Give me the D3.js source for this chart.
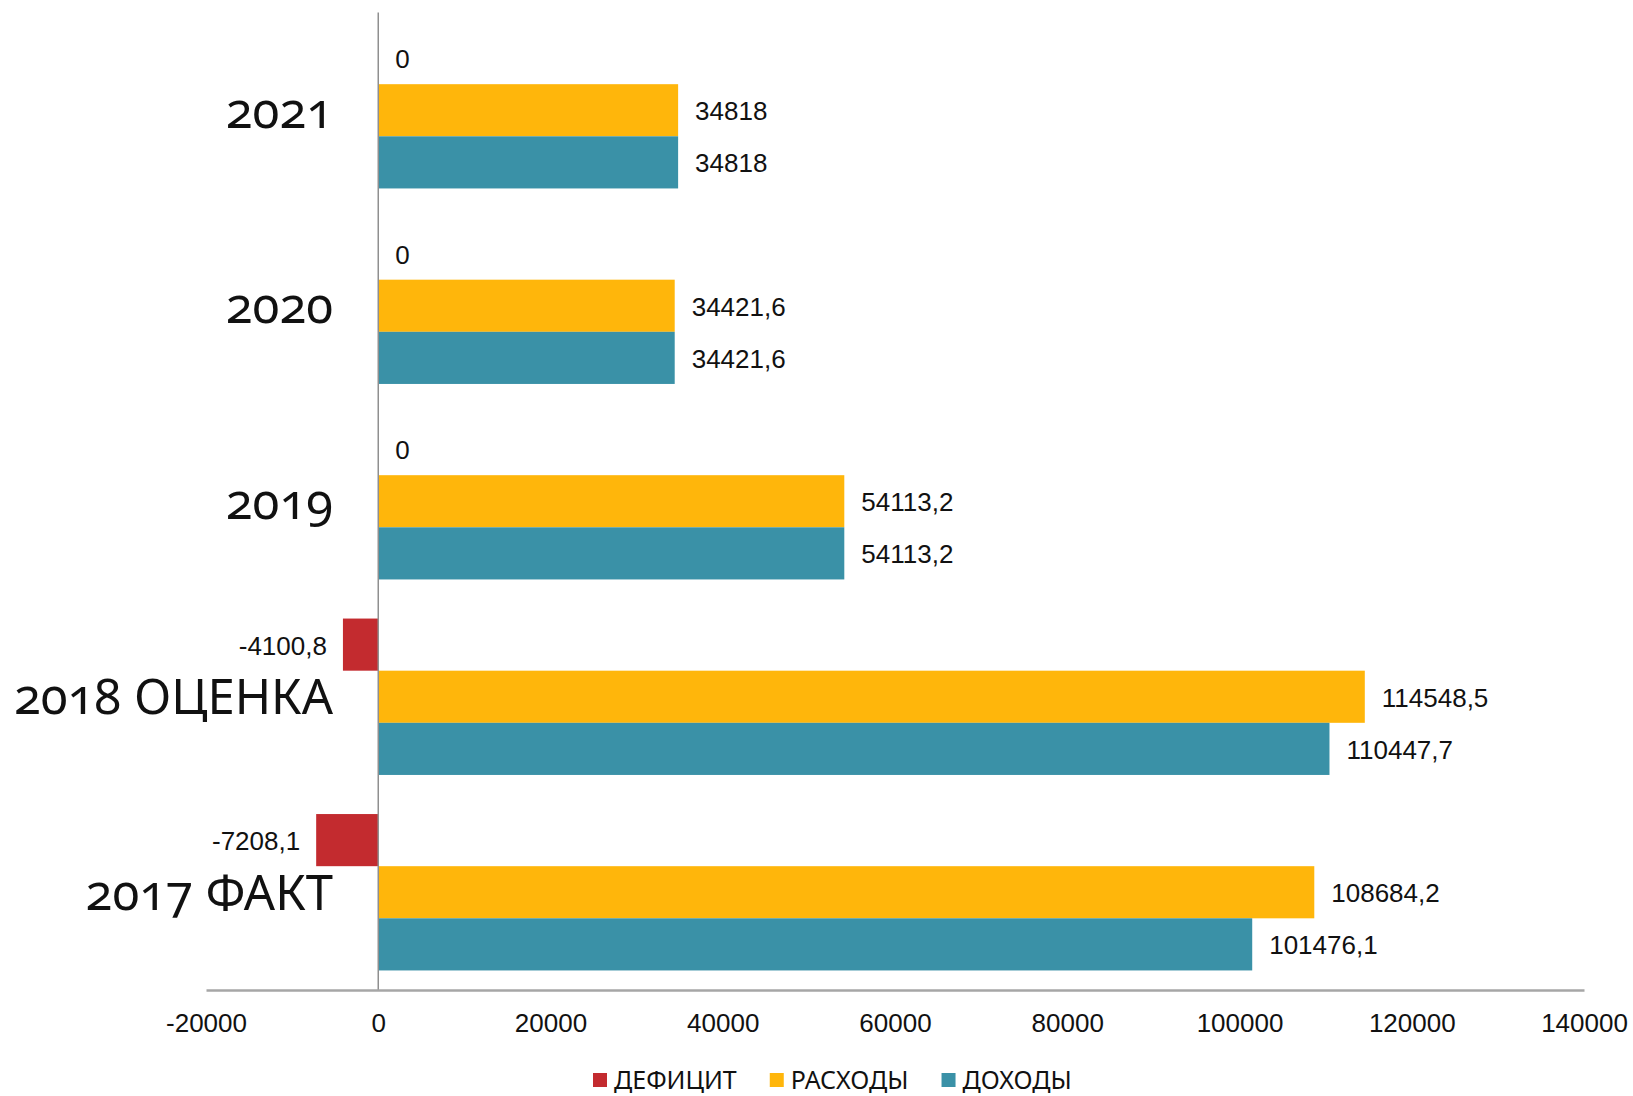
<!DOCTYPE html>
<html>
<head>
<meta charset="utf-8">
<script src="https://cdn.jsdelivr.net/npm/d3@7"></script>
<style>
html,body{margin:0;padding:0;background:#fff;}
svg{display:block;}
</style>
</head>
<body>
<svg id="chart" width="1633" height="1096"></svg>
<script>
// ---- data ----
const categories = ["2021", "2020", "2019", "2018 ОЦЕНКА", "2017 ФАКТ"];
const seriesNames = ["ДЕФИЦИТ", "РАСХОДЫ", "ДОХОДЫ"];
const deficit  = [0, 0, 0, -4100.8, -7208.1];
const expenses = [34818, 34421.6, 54113.2, 114548.5, 108684.2];
const revenues = [34818, 34421.6, 54113.2, 110447.7, 101476.1];
const tickValues = [-20000, 0, 20000, 40000, 60000, 80000, 100000, 120000, 140000];
const colors = ["#c32b2f", "#ffb60b", "#3a91a7"];

const seriesValues = [deficit, expenses, revenues];

const svg = d3.select("#chart");
const plotLeft = 206, plotRight = 1584, plotTop = 12.5, plotBottom = 990;

const x = d3.scaleLinear().domain([-20000, 140000]).range([plotLeft, plotRight]);
const y = d3.scaleBand().domain(categories).range([plotTop, plotBottom]).padding(0);
const ySub = d3.scaleBand().domain(seriesNames).range([0, y.bandwidth()]).paddingInner(0).paddingOuter(0.375);

const fmt = v => String(v).replace(".", ",");

// bars
categories.forEach((c, ci) => {
  const g = svg.append("g").attr("transform", `translate(0,${y(c)})`);
  seriesNames.forEach((s, si) => {
    const v = seriesValues[si][ci];
    g.append("rect")
      .attr("x", Math.min(x(0), x(v)))
      .attr("y", ySub(s))
      .attr("width", Math.abs(x(v) - x(0)))
      .attr("height", ySub.bandwidth())
      .attr("fill", colors[si]);
    g.append("text")
      .attr("x", v < 0 ? x(v) - 16 : x(v) + 17)
      .attr("y", ySub(s) + ySub.bandwidth() / 2 + 1)
      .attr("dy", "0.35em")
      .attr("text-anchor", v < 0 ? "end" : "start")
      .attr("font-family", "Liberation Sans, Arial, sans-serif")
      .attr("font-size", 26)
      .attr("fill", "#111")
      .text(fmt(v));
  });
});

// vertical zero axis
svg.append("line")
  .attr("x1", x(0)).attr("x2", x(0))
  .attr("y1", plotTop).attr("y2", plotBottom)
  .attr("stroke", "#8f8f8f").attr("stroke-width", 1.5);

// x axis
const xAxis = d3.axisBottom(x).tickValues(tickValues).tickSize(0).tickSizeOuter(0).tickPadding(24)
  .tickFormat(d => String(d));
const ax = svg.append("g").attr("transform", `translate(0,${plotBottom})`).call(xAxis);
ax.select(".domain").attr("stroke", "#a6a6a6").attr("stroke-width", 2.5);
ax.selectAll("text")
  .attr("font-family", "Liberation Sans, Arial, sans-serif")
  .attr("font-size", 26)
  .attr("fill", "#111");

// category labels
svg.append("g").selectAll("text").data(categories).join("text")
  .attr("x", 333)
  .attr("y", d => y(d) + y.bandwidth() / 2 + 17.5)
  .attr("text-anchor", "end")
  .attr("font-family", "Noto Sans, Open Sans, sans-serif")
  .style("font-variant-numeric", "oldstyle-nums")
  .attr("font-size", 49)
  .attr("fill", "#111")
  .text(d => d);

// legend
const legend = svg.append("g");
let lx = 593;
seriesNames.forEach((s, i) => {
  legend.append("rect").attr("x", lx).attr("y", 1073).attr("width", 14).attr("height", 14).attr("fill", colors[i]);
  const t = legend.append("text")
    .attr("x", lx + 21).attr("y", 1089)
    .attr("font-family", "Noto Sans, Open Sans, sans-serif")
    .attr("font-size", 25)
    .attr("fill", "#111")
    .text(s);
  lx = lx + 21 + t.node().getComputedTextLength() + 33;
});
</script>
</body>
</html>
